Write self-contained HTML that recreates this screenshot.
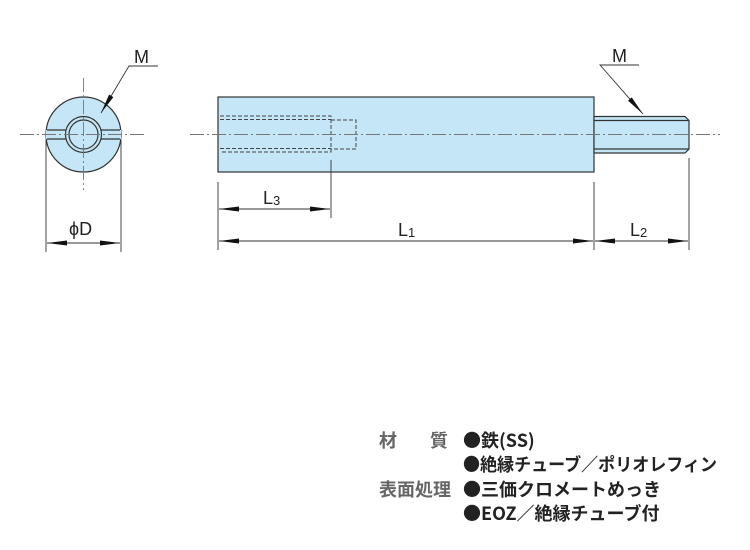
<!DOCTYPE html>
<html><head><meta charset="utf-8"><style>
body{margin:0;background:#fff;}
svg{display:block}
.t{font-family:"Liberation Sans","Noto Sans CJK JP",sans-serif;}
.j{font-family:"Noto Sans CJK JP",sans-serif;}
</style></head><body>
<svg width="750" height="550" viewBox="0 0 750 550" xmlns="http://www.w3.org/2000/svg">
<defs>
<marker id="a" viewBox="0 0 20 8" refX="20" refY="4" markerWidth="20" markerHeight="8" markerUnits="userSpaceOnUse" orient="auto-start-reverse"><path d="M0,1.5 L20,4 L0,6.5 Z" fill="#111"/></marker>
</defs>
<g stroke="#333" stroke-width="1.2">
<circle cx="83.5" cy="134.5" r="37.5" fill="#c4e6f6"/>
<rect x="46" y="130" width="75" height="9" fill="#c4e6f6" stroke="none"/>
<line x1="47" y1="130" x2="120" y2="130"/><line x1="47" y1="139" x2="120" y2="139"/>
<circle cx="83.5" cy="134.5" r="18" fill="#c4e6f6"/>
<circle cx="83.5" cy="134.5" r="14.5" fill="#c4e6f6"/>
<rect x="218" y="97" width="376" height="75" fill="#c4e6f6"/>
<path d="M594,116.5 H685 L689,120.5 V149 L685,153 H594 Z" fill="#c4e6f6"/>
<line x1="594" y1="120.5" x2="689" y2="120.5"/><line x1="594" y1="149" x2="689" y2="149"/>
</g>
<g stroke="#444" stroke-width="1" fill="none" stroke-dasharray="4,2">
<path d="M220,116 H331 V152 H220"/><path d="M220,119.5 H331"/><path d="M220,148.5 H331"/>
<path d="M331,120 H356 V149 H331"/>
</g>
<g stroke="#777" stroke-width="0.9" stroke-dasharray="14,3,2,3">
<line x1="20" y1="134.5" x2="145" y2="134.5"/>
<line x1="83.5" y1="78" x2="83.5" y2="190"/>
<line x1="190" y1="134.5" x2="720" y2="134.5"/>
</g>
<g stroke="#333" stroke-width="0.9" fill="none">
<line x1="46" y1="140" x2="46" y2="252"/><line x1="121" y1="140" x2="121" y2="252"/>
<line x1="218" y1="182" x2="218" y2="250"/><line x1="331" y1="160" x2="331" y2="218"/>
<line x1="594" y1="182" x2="594" y2="250"/><line x1="689" y1="158" x2="689" y2="250"/>
<line x1="47" y1="243" x2="120" y2="243" marker-start="url(#a)" marker-end="url(#a)"/>
<line x1="219" y1="209" x2="330" y2="209" marker-start="url(#a)" marker-end="url(#a)"/>
<line x1="219" y1="241" x2="593" y2="241" marker-start="url(#a)" marker-end="url(#a)"/>
<line x1="595" y1="241" x2="688" y2="241" marker-start="url(#a)" marker-end="url(#a)"/>
<polyline points="158,66 129,66 101,113" marker-end="url(#a)"/>
<polyline points="639,65 600,65 643,114" marker-end="url(#a)"/>
</g>
<g class="t" fill="#222" font-size="18">
<text x="134" y="63">M</text>
<text x="612" y="62">M</text>
<text x="69" y="235">ϕD</text>
<text x="263" y="204">L<tspan font-size="13" dy="1">3</tspan></text>
<text x="398" y="236">L<tspan font-size="13" dy="1">1</tspan></text>
<text x="630" y="236">L<tspan font-size="13" dy="1">2</tspan></text>
</g>
<g class="j" font-size="18" font-weight="bold">
<text x="379" y="447" fill="#666">材</text><text x="430" y="447" fill="#666">質</text>
<text x="379" y="496" fill="#666" textLength="72" lengthAdjust="spacingAndGlyphs">表面処理</text>
<text x="463" y="447" fill="#222">●鉄(SS)</text>
<text x="463" y="471" fill="#222" textLength="254" lengthAdjust="spacingAndGlyphs">●絶縁チューブ／ポリオレフィン</text>
<text x="463" y="496" fill="#222">●三価クロメートめっき</text>
<text x="463" y="520" fill="#222">●EOZ／絶縁チューブ付</text>
</g>
</svg>
</body></html>
